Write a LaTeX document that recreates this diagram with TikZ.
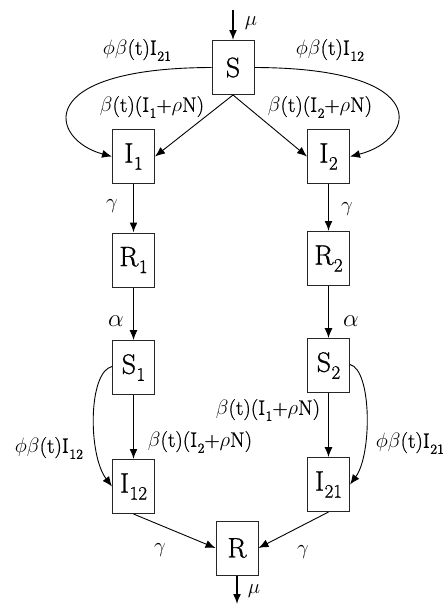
\documentclass[tikz,border=0pt]{standalone}
\usepackage{fontspec}
\usetikzlibrary{arrows.meta}
\newfontfamily\heavy{Latin Modern Roman}[FakeBold=0.9]
% lowered subscript for rate labels
\newcommand{\lsub}[1]{\kern0.5pt\raisebox{-6pt}{\fontsize{14}{14}\selectfont #1}}
% lowered subscript inside compartments
\newcommand{\bsub}[1]{\kern0.5pt\raisebox{-7pt}{\fontsize{19}{19}\selectfont #1}}
\begin{document}
\begin{tikzpicture}[x=1pt,y=-1pt,
  box/.style={draw=black!85, line width=1pt, minimum width=42pt, minimum height=54pt,
    inner sep=0pt, font=\fontsize{28}{32}\heavy},
  lab/.style={inner sep=0pt, font=\fontsize{21}{25}\heavy},
  glab/.style={inner sep=0pt, font=\fontsize{21}{25}\selectfont},
  alab/.style={inner sep=0pt, font=\fontsize{25}{29}\selectfont},
  flow/.style={-{Latex[length=10pt,width=8pt]}, line width=0.9pt},
  thick flow/.style={flow, line width=1.5pt}]
\useasboundingbox (0,0) rectangle (446,605);

% compartments
\node[box] (S)   at (233,67.5)   {S};
\node[box] (I1)  at (133.5,156.5) {I\bsub{1}};
\node[box] (I2)  at (328.5,156.5) {I\bsub{2}};
\node[box] (R1)  at (133.5,260)   {R\bsub{1}};
\node[box] (R2)  at (328.5,258.5) {R\bsub{2}};
\node[box] (S1)  at (133.5,367.5) {S\bsub{1}};
\node[box] (S2)  at (328.5,365.5) {S\bsub{2}};
\node[box] (I12) at (133.5,486.5) {I\bsub{12}};
\node[box] (I21) at (328.5,484.5) {I\bsub{21}};
\node[box] (R)   at (237,548)     {R};

% births and deaths
\coordinate (in)  at (233,10);
\coordinate (out) at (237,604);
\draw[thick flow] (in) -- (S.north);
\draw[thick flow] (R.south) -- (out);
\node[glab] (mu1) at (251,23)  {$\mu$};
\node[glab] (mu2) at (254,591) {$\mu$};

% primary infections
\draw[flow] (S.south) -- (I1.east);
\draw[flow] (S.south) -- (I2.west);
\node[lab] (l1) at (152,107) {$\beta$(t)(I\lsub{1}+$\rho$N)};
\node[lab] (l2) at (320,107) {$\beta$(t)(I\lsub{2}+$\rho$N)};

% cross infections from S
\draw[flow] (S.west) .. controls (30,68) and (50,140) .. (I1.west);
\draw[flow] (S.east) .. controls (436,68) and (416,140) .. (I2.east);
\node[lab] (l3) at (137,50) {$\phi\beta$(t)I\lsub{21}};
\node[lab] (l4) at (330,50) {$\phi\beta$(t)I\lsub{12}};

% recovery and loss of immunity
\draw[thick flow] (I1.south) -- (R1.north);
\draw[thick flow] (I2.south) -- (R2.north);
\node[glab] (g1) at (112,206) {$\gamma$};
\node[glab] (g2) at (347,209) {$\gamma$};
\draw[flow] (R1.south) -- (S1.north);
\draw[flow] (R2.south) -- (S2.north);
\node[alab] (a1) at (116,321) {$\alpha$};
\node[alab] (a2) at (351,321) {$\alpha$};

% secondary infections
\draw[thick flow] (S1.south) -- (I12.north);
\draw[flow] (S2.south) -- (I21.north);
\node[lab] (l5) at (200,442) {$\beta$(t)(I\lsub{2}+$\rho$N)};
\node[lab] (l6) at (268,410) {$\beta$(t)(I\lsub{1}+$\rho$N)};
\draw[flow] ([yshift=1pt]S1.west) .. controls (88,372) and (88,455) .. (I12.west);
\draw[flow] ([yshift=1pt]S2.east) .. controls (372,370) and (372,455) .. (I21.east);
\node[lab] (l7) at (49,448) {$\phi\beta$(t)I\lsub{12}};
\node[lab] (l8) at (410,443) {$\phi\beta$(t)I\lsub{21}};

% final recovery
\draw[flow] (I12.south) -- (R.west);
\draw[flow] (I21.south) -- (R.east);
\node[glab] (g3) at (160,550) {$\gamma$};
\node[glab] (g4) at (303,552) {$\gamma$};
\end{tikzpicture}
\end{document}
